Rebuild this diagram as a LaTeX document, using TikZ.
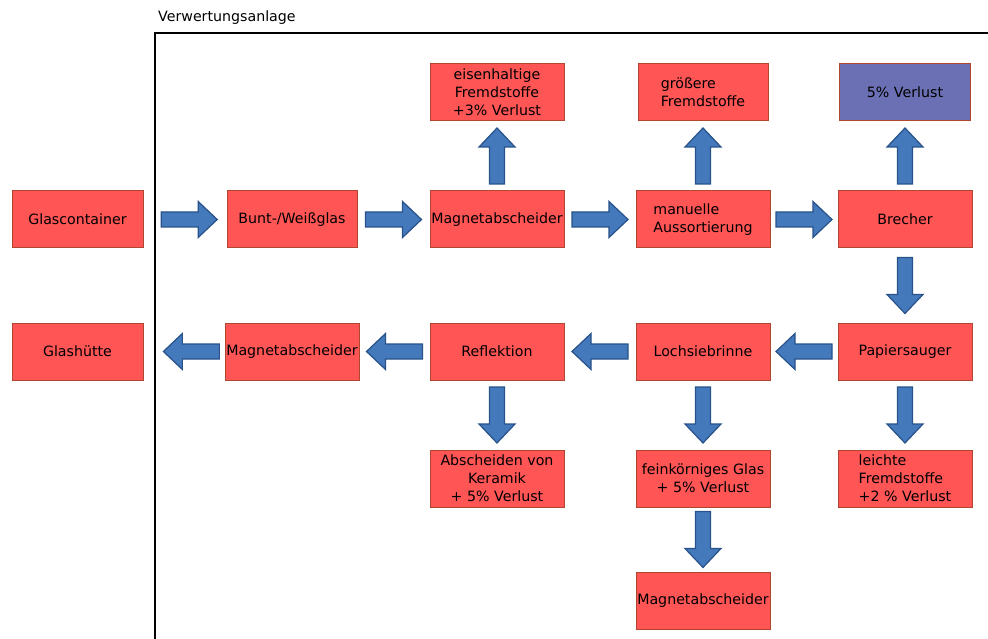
\documentclass[tikz,border=0pt]{standalone}
\usepackage{fontspec}
\setmainfont{DejaVu Sans}
\usetikzlibrary{positioning,calc}

\definecolor{boxred}{RGB}{255,85,85}
\definecolor{boxline}{RGB}{175,70,45}
\definecolor{lossblue}{RGB}{107,112,180}
\definecolor{arrowfill}{RGB}{68,121,187}
\definecolor{arrowline}{RGB}{40,82,138}

\begin{document}
\begin{tikzpicture}[x=1pt,y=1pt,
  font=\fontsize{14.2}{18}\selectfont,
  stage/.style={rectangle,fill=boxred,draw=boxline,line width=1pt,
    minimum width=134pt,minimum height=57pt,inner sep=0.5pt,outer sep=0pt},
  loss/.style={stage,fill=lossblue},
  flow/.style={draw=arrowline,fill=arrowfill,line width=1.2pt,
    to path={let \p1=(\tikztostart), \p2=(\tikztotarget),
      \n1={atan2(\y2-\y1,\x2-\x1)} in
      [shift={($(\p1)!#1!(\p2)$)},rotate=\n1]
      (-28,-7.5) -- (9,-7.5) -- (9,-18) -- (28,0) -- (9,18) -- (9,7.5)
      -- (-28,7.5) -- cycle}},
  flow/.default=0.5]

 \useasboundingbox (0,0) rectangle (988,-639);

 % Verwertungsanlage frame
 \draw[line width=1.5pt] (155,-639) -- (155,-33) -- (988,-33);
 \node[anchor=base west,inner sep=0pt] (anlage) at (158,-22) {Verwertungsanlage};

 \node[stage,minimum width=131pt] (glascont) at (77.5,-219.5) {Glascontainer};
 \node[stage,minimum width=130pt] (bunt) [right=84pt of glascont] {Bunt-/Weißglas};
 \node[stage] (magnet1) [right=73pt of bunt] {Magnetabscheider};
 \node[stage,align=left] (manuell) [right=72pt of magnet1] {manuelle\\Aussortierung};
 \node[stage] (brecher) [right=68pt of manuell] {Brecher};

 \node[stage,align=center] (eisen) [above=70pt of magnet1] {eisenhaltige\\Fremdstoffe\\+3\% Verlust};
 \node[stage,align=left,minimum width=130pt] (groesser) [above=70pt of manuell] {größere\\Fremdstoffe};
 \node[loss,minimum width=131pt] (verlust) [above=70pt of brecher] {5\% Verlust};

 \node[stage] (papier) [below=75pt of brecher] {Papiersauger};
 \node[stage] (loch) [below=75pt of manuell] {Lochsiebrinne};
 \node[stage] (reflek) [below=75pt of magnet1] {Reflektion};
 \node[stage] (magnet2) [below=75pt of bunt] {Magnetabscheider};
 \node[stage,minimum width=131pt] (glashuette) [below=75pt of glascont] {Glashütte};

 \node[stage,align=center] (keramik) [below=70pt of reflek] {Abscheiden von\\Keramik\\+ 5\% Verlust};
 \node[stage,align=center] (feinglas) [below=70pt of loch] {feinkörniges Glas\\+ 5\% Verlust};
 \node[stage,align=left] (leicht) [below=70pt of papier] {leichte\\Fremdstoffe\\+2 \% Verlust};
 \node[stage] (magnet3) [below=65pt of feinglas] {Magnetabscheider};

 \path
    (glascont.east) edge [flow=0.55] (bunt.west)
    (bunt.east)     edge [flow] (magnet1.west)
    (magnet1.east)  edge [flow] (manuell.west)
    (manuell.east)  edge [flow] (brecher.west)
    (magnet1.north) edge [flow] (eisen.south)
    (manuell.north) edge [flow] (groesser.south)
    (brecher.north) edge [flow] (verlust.south)
    (brecher.south) edge [flow] (papier.north)
    (papier.west)   edge [flow] (loch.east)
    (loch.west)     edge [flow] (reflek.east)
    (reflek.west)   edge [flow] (magnet2.east)
    (magnet2.west)  edge [flow=0.41] (glashuette.east)
    (reflek.south)  edge [flow] (keramik.north)
    (loch.south)    edge [flow] (feinglas.north)
    (papier.south)  edge [flow] (leicht.north)
    (feinglas.south) edge [flow] (magnet3.north);

\end{tikzpicture}
\end{document}
